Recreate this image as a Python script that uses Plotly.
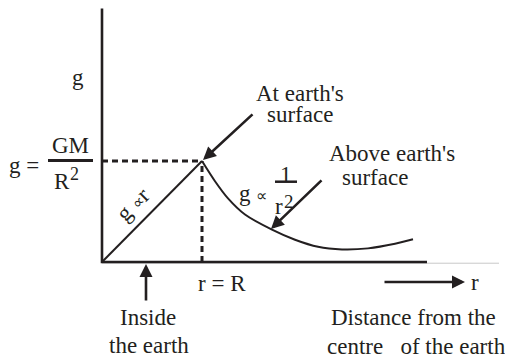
import plotly.graph_objects as go

# ---- data (r in units of R, g in units of GM/R^2) ----
r_axis_end = 3.25
g_axis_end = 2.51
r_inside = [0, 1]
g_inside = [0, 1]
r_outside = [1.0, 1.13, 1.26, 1.43, 1.70, 1.93, 2.16, 2.40, 2.66, 2.93, 3.11]
g_outside = [1.0, 0.80, 0.63, 0.47, 0.32, 0.22, 0.15, 0.125, 0.135, 0.18, 0.225]
R_surface = 1.0
g_surface = 1.0

INK = "#231f20"
FONT = "Liberation Serif, Times New Roman, serif"
FS = 23
PROP = '<span style="font-size:16px">∝</span>'

fig = go.Figure()

# faint base line
fig.add_trace(go.Scatter(x=[0, 3.97], y=[-0.012, -0.012], mode="lines",
                         line=dict(color="#c8c8c8", width=1), hoverinfo="skip"))
# axes
fig.add_trace(go.Scatter(x=[0, 0, r_axis_end], y=[g_axis_end, 0, 0], mode="lines",
                         line=dict(color=INK, width=2.6), hoverinfo="skip"))
# dashed guides
fig.add_trace(go.Scatter(x=[0, R_surface], y=[g_surface, g_surface], mode="lines",
                         line=dict(color=INK, width=3, dash="6px,4px"), hoverinfo="skip"))
fig.add_trace(go.Scatter(x=[R_surface, R_surface], y=[0, g_surface], mode="lines",
                         line=dict(color=INK, width=3, dash="6px,4px"), hoverinfo="skip"))
# inside
fig.add_trace(go.Scatter(x=r_inside, y=g_inside, mode="lines",
                         line=dict(color=INK, width=2), hoverinfo="skip"))
# outside
fig.add_trace(go.Scatter(x=r_outside, y=g_outside, mode="lines",
                         line=dict(color=INK, width=2, shape="spline", smoothing=0.8),
                         hoverinfo="skip"))

def txt(x, y, s, size=FS, angle=0):
    fig.add_annotation(x=x, y=y, text=s, showarrow=False, textangle=angle,
                       font=dict(family=FONT, size=size, color=INK),
                       xanchor="center", yanchor="middle")

txt(-0.24, 1.822, "g")
txt(-0.78, 0.960, "g =")
txt(-0.32, 1.149, "GM")
txt(-0.40, 0.80, "R")
txt(-0.28, 0.87, "2", size=18)
txt(0.31, 0.57, "g " + PROP + "r", angle=-45)
txt(1.98, 1.673, "At earth's")
txt(1.98, 1.465, "surface")
txt(2.90, 1.079, "Above earth's")
txt(2.73, 0.832, "surface")
txt(1.51, 0.683, "g " + PROP)
txt(1.84, 0.871, "1")
txt(1.77, 0.55, "r")
txt(1.87, 0.60, "2", size=19)
txt(1.20, -0.208, "r = R")
txt(0.46, -0.545, "Inside")
txt(0.47, -0.822, "the earth")
txt(3.11, -0.545, "Distance from the")
txt(3.14, -0.832, "centre\u00a0\u00a0 of the earth")
txt(3.73, -0.198, "r")

# fraction bars
fig.add_shape(type="line", x0=-0.54, x1=-0.09, y0=1.005, y1=1.005,
              line=dict(color=INK, width=3))
fig.add_shape(type="line", x0=1.73, x1=1.95, y0=0.795, y1=0.795,
              line=dict(color=INK, width=2.5))

def arrow(x0, y0, x1, y1):
    fig.add_annotation(x=x1, y=y1, ax=x0, ay=y0, xref="x", yref="y",
                       axref="x", ayref="y", text="", showarrow=True,
                       arrowhead=2, arrowsize=1, arrowwidth=2.6, arrowcolor=INK)

arrow(1.52, 1.475, 1.01, 1.01)
arrow(2.21, 0.822, 1.69, 0.327)
arrow(0.44, -0.396, 0.44, -0.02)
arrow(2.81, -0.198, 3.63, -0.198)

fig.update_layout(
    width=505, height=357,
    margin=dict(l=0, r=0, t=0, b=0),
    paper_bgcolor="white", plot_bgcolor="white",
    showlegend=False,
    xaxis=dict(range=[-1.02, 4.03], visible=False, fixedrange=True),
    yaxis=dict(range=[-0.9406, 2.5941], visible=False, fixedrange=True),
)

fig.write_html("out.html", config={"displayModeBar": False, "staticPlot": True},
               post_script="document.body.style.margin='0';document.body.style.overflow='hidden';")
